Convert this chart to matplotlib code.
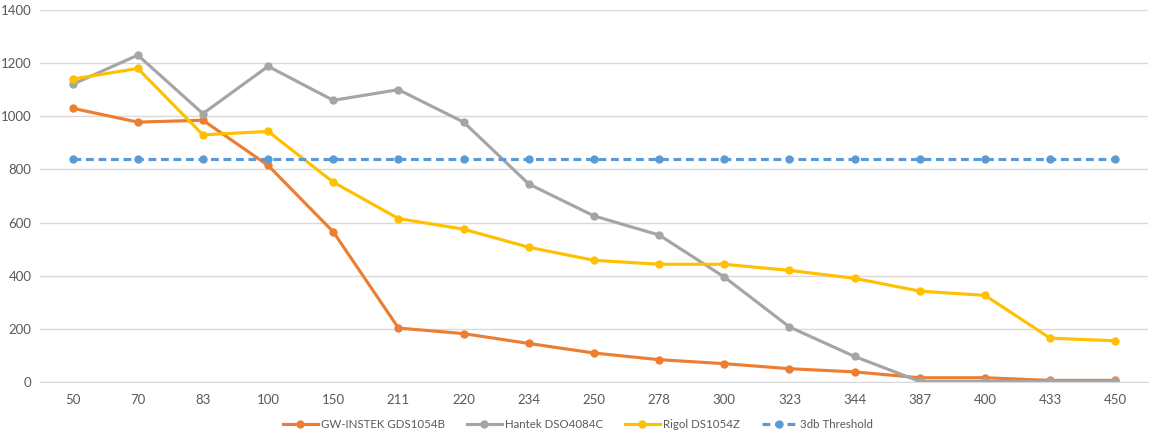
import matplotlib.pyplot as plt
import numpy as np

freqs = ['50', '70', '83', '100', '150', '211', '220', '234', '250', '278',
         '300', '323', '344', '387', '400', '433', '450']
gw_instek = [1030, 978, 985, 815, 565, 203, 182, 145, 109, 84, 69, 50, 38, 16, 16, 6, 6]
hantek = [1120, 1230, 1010, 1188, 1060, 1100, 978, 745, 625, 553, 395, 207, 96, 2, 2, 2, 2]
rigol = [1140, 1180, 930, 943, 752, 615, 575, 507, 458, 443, 443, 420, 390, 342, 326, 165, 155]
threshold = [838] * len(freqs)

plt.rcParams['font.family'] = ['Lato', 'DejaVu Sans']

fig = plt.figure(figsize=(11.56, 4.33), dpi=100)
ax = fig.add_axes([0.0346, 0.1178, 0.9584, 0.8592])

x = np.arange(len(freqs))
ax.plot(x, gw_instek, color='#ED7D31', lw=2.25, marker='o', ms=5, label='GW-INSTEK GDS1054B')
ax.plot(x, hantek, color='#A5A5A5', lw=2.25, marker='o', ms=5, label='Hantek DSO4084C')
ax.plot(x, rigol, color='#FFC000', lw=2.25, marker='o', ms=5, label='Rigol DS1054Z')
ax.plot(x, threshold, color='#5B9BD5', lw=2.25, marker='o', ms=5, dashes=(2.5, 1.5),
        label='3db Threshold')

ax.set_xlim(-0.5, len(freqs) - 0.5)
ax.set_ylim(0, 1400)
ax.set_yticks(range(0, 1401, 200))
ax.set_xticks(x)
ax.set_xticklabels(freqs)
ax.grid(axis='y', color='#D9D9D9', lw=1)
ax.set_axisbelow(True)
for s in ['top', 'right', 'left']:
    ax.spines[s].set_visible(False)
ax.spines['bottom'].set_color('#D9D9D9')
ax.tick_params(length=0, colors='#595959', labelsize=9.5)
ax.tick_params(axis='x', pad=9)
ax.tick_params(axis='y', pad=6)

fig.legend(loc='lower center', ncol=4, frameon=False, fontsize=8.3,
           bbox_to_anchor=(0.5, -0.016), handlelength=3.0, handletextpad=0.3,
           columnspacing=1.9, labelcolor='#595959')

fig.savefig('out.png', dpi=100)
